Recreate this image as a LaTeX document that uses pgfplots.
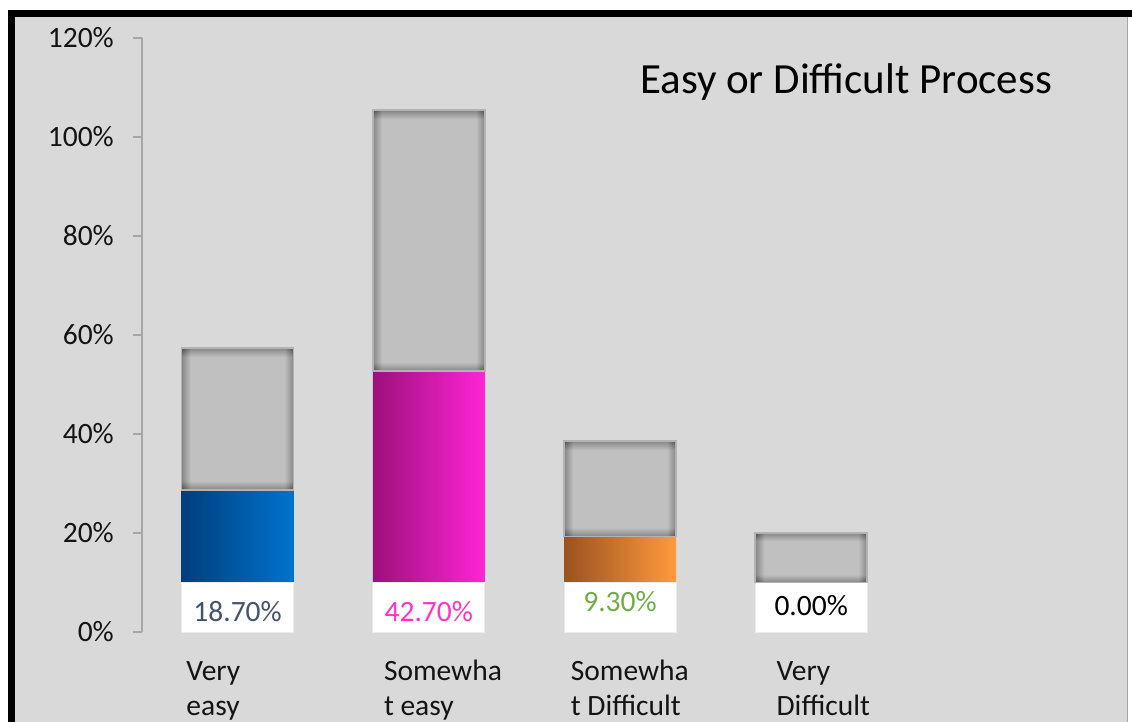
\documentclass[border=0pt]{standalone}
\usepackage{fontspec}
\setmainfont{Carlito}
\usepackage{pgfplots}
\pgfplotsset{compat=1.18}
\definecolor{bg}{HTML}{D9D9D9}
\definecolor{gd}{HTML}{4C4C4C}
\definecolor{gl}{HTML}{C0C0C0}
\definecolor{gborder}{HTML}{B3B3B3}
\definecolor{blueL}{HTML}{003E7C}
\definecolor{blueR}{HTML}{0073CD}
\definecolor{magL}{HTML}{9C107B}
\definecolor{magR}{HTML}{FF24D6}
\definecolor{orL}{HTML}{9A5221}
\definecolor{orR}{HTML}{FF9A3D}
\definecolor{lab1}{HTML}{44546A}
\definecolor{lab2}{HTML}{FF33CC}
\definecolor{lab3}{HTML}{70AD47}
\definecolor{axisgray}{HTML}{A6A6A6}
\pgfdeclarehorizontalshading{hedge}{100bp}{color(0bp)=(gd); color(25bp)=(gd); color(29bp)=(gl); color(71bp)=(gl); color(75bp)=(gd); color(100bp)=(gd)}
\pgfdeclareverticalshading{vedgeA}{100bp}{color(0bp)=(gd); color(25bp)=(gd); color(28.2bp)=(gl); color(71.8bp)=(gl); color(75bp)=(gd); color(100bp)=(gd)}
\pgfdeclareverticalshading{vedgeB}{100bp}{color(0bp)=(gd); color(25bp)=(gd); color(26.7bp)=(gl); color(73.3bp)=(gl); color(75bp)=(gd); color(100bp)=(gd)}
\pgfdeclareverticalshading{vedgeC}{100bp}{color(0bp)=(gd); color(25bp)=(gd); color(29.7bp)=(gl); color(70.3bp)=(gl); color(75bp)=(gd); color(100bp)=(gd)}
\pgfdeclareverticalshading{vedgeD}{100bp}{color(0bp)=(gd); color(25bp)=(gd); color(33bp)=(gl); color(67bp)=(gl); color(75bp)=(gd); color(100bp)=(gd)}
\tikzset{graybar/.style={fill=none, draw=gborder, line width=1.6pt,
  preaction={shade, shading=hedge},
  preaction={shade, shading=#1, fill opacity=0.5}}}
\pgfplotsset{frame/.style={at={(142pt,-632pt)}, anchor=south west, scale only axis,
  width=956pt, height=594pt, xmin=-0.5, xmax=4.5, ymin=0, ymax=120, clip=false},
  gaxis/.style={frame, hide axis, ybar stacked, bar width=112pt}}
\newcommand\cl[3]{\hspace*{#1}\begin{tabular}[t]{@{}l@{}}#2\\#3\end{tabular}}
\newcommand\lf{\fontsize{29.5}{35}\selectfont}
\begin{document}
\begin{tikzpicture}
\useasboundingbox (0pt,0pt) rectangle (1132pt,-722pt);
\fill[white] (0pt,0pt) rectangle (1132pt,-722pt);
\fill[bg] (15pt,-17pt) rectangle (1127.5pt,-722pt);
\draw[axisgray, line width=1pt] (1127.5pt,-17pt) -- (1127.5pt,-722pt);
\fill[black] (8.3pt,-10.5pt) rectangle (14.7pt,-722pt);
\fill[black] (8.3pt,-10.5pt) rectangle (1132pt,-16.7pt);

\begin{axis}[frame,
 ybar, bar width=112pt,
 axis x line*=bottom, axis y line*=left,
 x axis line style={draw=none},
 y axis line style={axisgray, line width=1.2pt, -},
 xtick={0,1,2,3},
 xticklabels={{\cl{0.7pt}{Very}{easy}},{\cl{7pt}{Somewha}{t easy}},{\cl{2.7pt}{Somewha}{t Difficult}},{\cl{17.2pt}{Very}{Difficult}}},
 xtick style={draw=none},
 ytick={0,20,...,120},
 ytick style={axisgray, line width=1.2pt},
 tick align=outside, major tick length=9pt,
 yticklabel={\pgfmathprintnumber{\tick}\%},
 /pgf/number format/assume math mode=true,
 ticklabel style={font=\lf, text=black!92},
 yticklabel style={anchor=east, inner sep=0pt, xshift=-19pt},
 xticklabel style={anchor=base west, inner sep=0pt, xshift=-52pt, yshift=-39pt},
]
% coloured value segments (from the white label box up to 10 + value)
\addplot[bar shift=0pt, draw=none, left color=blueL, right color=blueR] coordinates {(0,28.7)};
\addplot[bar shift=0pt, draw=none, left color=magL, right color=magR] coordinates {(1,52.7)};
\addplot[bar shift=0pt, draw=none, left color=orL, right color=orR] coordinates {(2,19.3)};
% white label boxes
\addplot[bar shift=0pt, fill=white, draw=black!8, line width=0.8pt] coordinates {(0,10) (1,10) (2,10) (3,10)};
\node[font=\lf, text=lab1] at (axis cs:0,4.04) {18.70\%};
\node[font=\lf, text=lab2] at (axis cs:1,4.04) {42.70\%};
\node[font=\lf, text=lab3] at (axis cs:2,6.06) {9.30\%};
\node[font=\lf, text=black] at (axis cs:3,5.25) {0.00\%};
\end{axis}

% grey top segments, stacked on an invisible base of 10 + value
\begin{axis}[gaxis]
\addplot[draw=none, fill=none] coordinates {(0,28.7)};
\addplot[graybar=vedgeA] coordinates {(0,28.7)};
\end{axis}
\begin{axis}[gaxis]
\addplot[draw=none, fill=none] coordinates {(1,52.7)};
\addplot[graybar=vedgeB] coordinates {(1,52.7)};
\end{axis}
\begin{axis}[gaxis]
\addplot[draw=none, fill=none] coordinates {(2,19.3)};
\addplot[graybar=vedgeC] coordinates {(2,19.3)};
\end{axis}
\begin{axis}[gaxis]
\addplot[draw=none, fill=none] coordinates {(3,10)};
\addplot[graybar=vedgeD] coordinates {(3,10)};
\end{axis}

\node[anchor=base west, inner sep=0pt, font=\fontsize{43}{50}\selectfont] at (640pt,-94pt) {Easy or Difficult Process};
\end{tikzpicture}
\end{document}
